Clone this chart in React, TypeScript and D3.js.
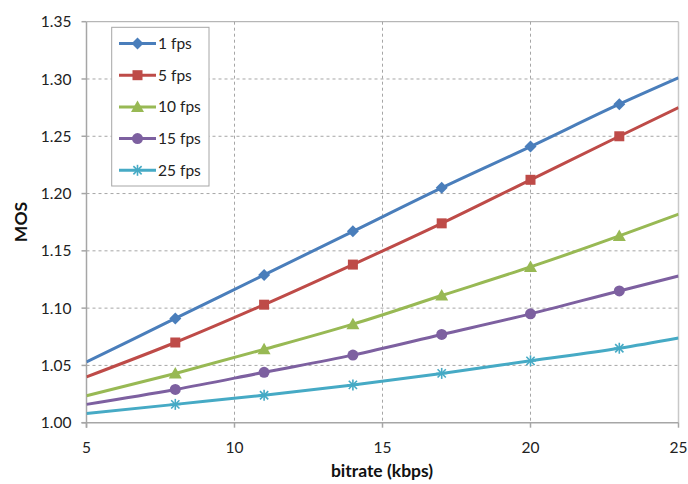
import React from "react";
import * as d3 from "d3";

const bitrates = [5, 8, 11, 14, 17, 20, 23, 25];
const markerBitrates = [8, 11, 14, 17, 20, 23];
const seriesNames = ["1 fps", "5 fps", "10 fps", "15 fps", "25 fps"];
const fps1 = [1.053, 1.091, 1.129, 1.167, 1.205, 1.241, 1.278, 1.301];
const fps5 = [1.04, 1.07, 1.103, 1.138, 1.174, 1.212, 1.25, 1.275];
const fps10 = [1.0235, 1.043, 1.064, 1.086, 1.111, 1.136, 1.163, 1.182];
const fps15 = [1.016, 1.029, 1.044, 1.059, 1.077, 1.095, 1.115, 1.128];
const fps25 = [1.008, 1.016, 1.024, 1.033, 1.043, 1.054, 1.065, 1.074];
const xTicks = [5, 10, 15, 20, 25];
const yTicks = [1.0, 1.05, 1.1, 1.15, 1.2, 1.25, 1.3, 1.35];
const colors = ["#4A7EBB", "#BE4B48", "#98B954", "#7D60A0", "#46AAC5"];
const markers = ["diamond", "square", "triangle", "circle", "star"];

const W = 688, H = 484;
const L = 86.5, R = 678.5, T = 21.7, B = 422.7;
const FONT = "Lato, 'Open Sans', sans-serif";

function Marker({ type, x, y, color }: { type: string; x: number; y: number; color: string }) {
  if (type === "diamond") {
    const s = 6;
    return <path d={`M${x},${y - s}L${x + s},${y}L${x},${y + s}L${x - s},${y}Z`} fill={color} />;
  }
  if (type === "square") {
    return <rect x={x - 5} y={y - 5} width={10} height={10} fill={color} />;
  }
  if (type === "triangle") {
    return <path d={`M${x},${y - 6.5}L${x + 6.5},${y + 5}L${x - 6.5},${y + 5}Z`} fill={color} />;
  }
  if (type === "circle") {
    return <circle cx={x} cy={y} r={5.5} fill={color} />;
  }
  const s = 5.5;
  return (
    <g stroke={color} strokeWidth={1.6}>
      <line x1={x - s} y1={y} x2={x + s} y2={y} />
      <line x1={x} y1={y - s} x2={x} y2={y + s} />
      <line x1={x - s * 0.75} y1={y - s * 0.75} x2={x + s * 0.75} y2={y + s * 0.75} />
      <line x1={x - s * 0.75} y1={y + s * 0.75} x2={x + s * 0.75} y2={y - s * 0.75} />
    </g>
  );
}

export default function App() {
  const x = d3.scaleLinear().domain([5, 25]).range([L, R]);
  const y = d3.scaleLinear().domain([1.0, 1.35]).range([B, T]);
  const allSeries = [fps1, fps5, fps10, fps15, fps25];
  const line = d3
    .line<[number, number]>()
    .x((d) => x(d[0]))
    .y((d) => y(d[1]))
    .curve(d3.curveMonotoneX);

  return (
    <svg width={W} height={H} style={{ position: "absolute", left: 0, top: 0, background: "#fff" }} fontFamily={FONT}>
      <rect x={0} y={0} width={W} height={H} fill="#fff" />
      {/* grid */}
      {yTicks.slice(1, -1).map((t) => (
        <line key={"gy" + t} x1={L} x2={R} y1={y(t)} y2={y(t)} stroke="#a6a6a6" strokeWidth={1} strokeDasharray="3,3" />
      ))}
      {xTicks.slice(1, -1).map((t) => (
        <line key={"gx" + t} x1={x(t)} x2={x(t)} y1={T} y2={B} stroke="#a6a6a6" strokeWidth={1} strokeDasharray="3,3" />
      ))}
      {/* frame */}
      <line x1={L} x2={R} y1={T} y2={T} stroke="#a6a6a6" />
      <line x1={R} x2={R} y1={T} y2={B} stroke="#c8c8c8" strokeWidth={1.5} />
      <line x1={L} x2={L} y1={T} y2={B + 5} stroke="#a6a6a6" strokeWidth={1.5} />
      <line x1={L - 5} x2={R} y1={B} y2={B} stroke="#a6a6a6" strokeWidth={1.5} />
      {yTicks.map((t) => (
        <g key={"ty" + t}>
          <line x1={L - 5} x2={L} y1={y(t)} y2={y(t)} stroke="#a6a6a6" strokeWidth={1.5} />
          <text x={71.5} y={y(t)} dy="0.36em" textAnchor="end" fontSize={15.5} fill="#222">
            {t.toFixed(2)}
          </text>
        </g>
      ))}
      {xTicks.map((t) => (
        <g key={"tx" + t}>
          <line x1={x(t)} x2={x(t)} y1={B} y2={B + 5} stroke="#a6a6a6" strokeWidth={1.5} />
          <text x={x(t)} y={452.5} textAnchor="middle" fontSize={15.5} fill="#222">
            {t}
          </text>
        </g>
      ))}
      <text x={382} y={476.5} textAnchor="middle" fontSize={17.5} fontWeight="bold" fill="#111">
        bitrate (kbps)
      </text>
      <text transform={`translate(27,222) rotate(-90)`} textAnchor="middle" fontSize={17.5} fontWeight="bold" fill="#111">
        MOS
      </text>
      {/* series */}
      <defs>
        <clipPath id="plotclip">
          <rect x={L} y={T} width={R - L} height={B - T} />
        </clipPath>
      </defs>
      {allSeries.map((vals, i) => {
        const pts: [number, number][] = bitrates.map((b, j) => [b, vals[j]]);
        return (
          <g key={"s" + i}>
            <path d={line(pts) || ""} fill="none" stroke={colors[i]} strokeWidth={3} clipPath="url(#plotclip)" />
            {pts
              .filter((p) => markerBitrates.includes(p[0]))
              .map((p) => (
                <Marker key={p[0]} type={markers[i]} x={x(p[0])} y={y(p[1])} color={colors[i]} />
              ))}
          </g>
        );
      })}
      {/* legend */}
      <rect x={111.7} y={27.3} width={97.3} height={158.7} fill="#fff" stroke="#a6a6a6" strokeWidth={1} />
      {seriesNames.map((n, i) => {
        const ly = 43.5 + i * 31.7;
        return (
          <g key={"l" + i}>
            <line x1={119} x2={156} y1={ly} y2={ly} stroke={colors[i]} strokeWidth={3} />
            <Marker type={markers[i]} x={137.5} y={ly} color={colors[i]} />
            <text x={158} y={ly} dy="0.36em" fontSize={15.5} fill="#222">
              {n}
            </text>
          </g>
        );
      })}
    </svg>
  );
}
